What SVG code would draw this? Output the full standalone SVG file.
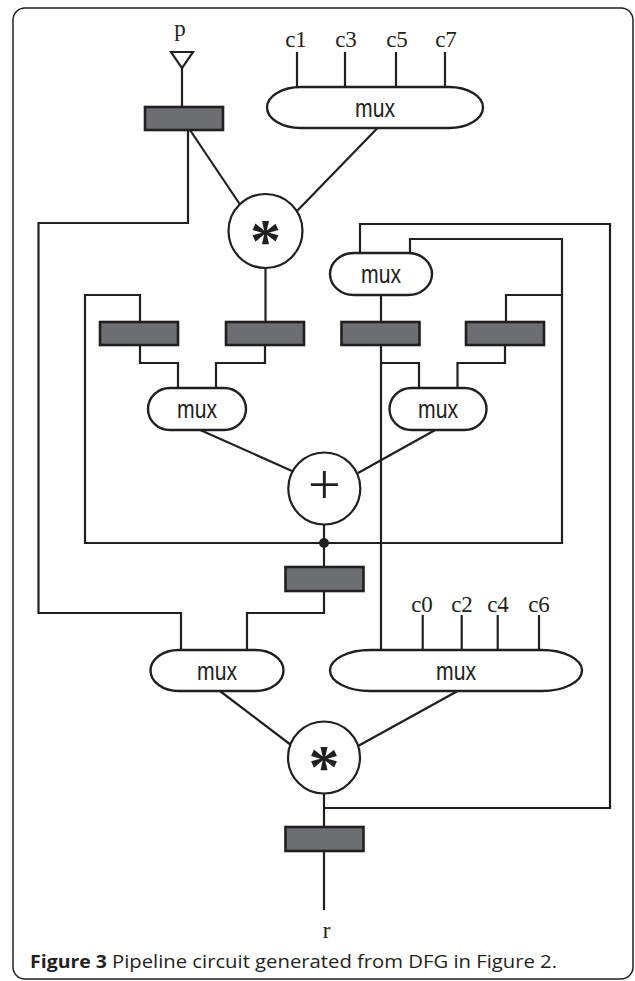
<svg xmlns="http://www.w3.org/2000/svg" width="635" height="981" viewBox="0 0 635 981">
<style>
.w{fill:none;stroke:#231f20;stroke-width:2.2;stroke-linejoin:miter;stroke-linecap:butt}
.reg{fill:#6d6e71;stroke:#231f20;stroke-width:2.6}
.mux{fill:#fff;stroke:#231f20;stroke-width:2.4}
.op{fill:#fff;stroke:#231f20;stroke-width:2.2}
.mt{font-family:"Liberation Sans",Arial,sans-serif;font-size:26px;fill:#231f20;text-anchor:middle}
.lbl{font-family:"Liberation Serif","Times New Roman",serif;font-size:23px;fill:#231f20;text-anchor:middle}
.sym{font-family:"Liberation Serif","Times New Roman",serif;fill:#231f20;text-anchor:middle}
.cap{font-family:"Open Sans","Noto Sans",sans-serif;font-size:18px;fill:#231f20}
</style>
<rect x="13" y="8" width="620" height="971" rx="12" ry="12" fill="#fff" stroke="#231f20" stroke-width="1.5"/>
<g id="connectors">
<polyline class="w" points="182,68 182,107"/>
<polyline class="w" points="297,52 297,88"/>
<polyline class="w" points="345,52 345,88"/>
<polyline class="w" points="396,52 396,88"/>
<polyline class="w" points="445,52 445,88"/>
<line class="w" x1="190" y1="130" x2="241" y2="206"/>
<line class="w" x1="378.5" y1="127" x2="297" y2="211"/>
<polyline class="w" points="188,130 188,223 38.5,223 38.5,613 181,613 181,651"/>
<polyline class="w" points="265.5,267 265.5,322"/>
<polyline class="w" points="360,254 360,224 610,224 610,808 324,808"/>
<polyline class="w" points="410,254 410,239 562,239 562,543 85,543 85,295 140,295 140,322"/>
<polyline class="w" points="562,295 506,295 506,322"/>
<polyline class="w" points="381,294 381,322"/>
<polyline class="w" points="140,345 140,363 178,363 178,389"/>
<polyline class="w" points="265,345 265,363 216,363 216,389"/>
<polyline class="w" points="381,345 381,651"/>
<polyline class="w" points="381,363 419,363 419,389"/>
<polyline class="w" points="505,345 505,363 457.5,363 457.5,389"/>
<line class="w" x1="198" y1="429" x2="292" y2="471"/>
<line class="w" x1="437" y1="429" x2="358" y2="473"/>
<polyline class="w" points="324,524 324,567"/>
<circle cx="324" cy="543" r="5" fill="#231f20"/>
<polyline class="w" points="324,591 324,613 247,613 247,651"/>
<polyline class="w" points="422.7,615 422.7,651"/>
<polyline class="w" points="461.7,615 461.7,651"/>
<polyline class="w" points="497.7,615 497.7,651"/>
<polyline class="w" points="539,615 539,651"/>
<line class="w" x1="218.6" y1="690" x2="291" y2="745"/>
<line class="w" x1="459.5" y1="690" x2="358" y2="746"/>
<polyline class="w" points="324,793 324,827"/>
<polyline class="w" points="324,851 324,910"/>
</g>
<g id="input-p">
<polygon points="171,52 193,52 182,68" fill="#fff" stroke="#231f20" stroke-width="2.2"/>
<text class="lbl" x="180" y="36" font-size="24">p</text>
</g>
<g id="labels-c-top">
<text class="lbl" x="296" y="47">c1</text>
<text class="lbl" x="346" y="47">c3</text>
<text class="lbl" x="397" y="47">c5</text>
<text class="lbl" x="446" y="47">c7</text>
</g>
<g id="labels-c-bottom">
<text class="lbl" x="422" y="612">c0</text>
<text class="lbl" x="462" y="612">c2</text>
<text class="lbl" x="498" y="612">c4</text>
<text class="lbl" x="539" y="612">c6</text>
</g>
<g id="reg1"><rect class="reg" x="145" y="107" width="78" height="23"/></g>
<g id="regA"><rect class="reg" x="100" y="322" width="78" height="23"/></g>
<g id="regB"><rect class="reg" x="226" y="322" width="78" height="23"/></g>
<g id="regC"><rect class="reg" x="341.5" y="322" width="78" height="23"/></g>
<g id="regD"><rect class="reg" x="466" y="322" width="78" height="23"/></g>
<g id="regE"><rect class="reg" x="285.5" y="567" width="78" height="24"/></g>
<g id="regF"><rect class="reg" x="285.5" y="827" width="78" height="24"/></g>
<g id="mux-top"><rect class="mux" x="267" y="87" width="216" height="41" rx="34" ry="20.5"/><text class="mt" x="375" y="117" textLength="40" lengthAdjust="spacingAndGlyphs">mux</text></g>
<g id="mux-mid"><rect class="mux" x="330" y="253" width="102" height="42" rx="24" ry="21"/><text class="mt" x="381" y="283" textLength="40" lengthAdjust="spacingAndGlyphs">mux</text></g>
<g id="mux-left"><rect class="mux" x="148" y="388" width="98" height="42" rx="22" ry="21"/><text class="mt" x="197" y="418" textLength="40" lengthAdjust="spacingAndGlyphs">mux</text></g>
<g id="mux-right"><rect class="mux" x="389.5" y="388" width="97" height="42" rx="22" ry="21"/><text class="mt" x="438" y="418" textLength="40" lengthAdjust="spacingAndGlyphs">mux</text></g>
<g id="mux-bl"><rect class="mux" x="150.5" y="650" width="133" height="41" rx="28" ry="20.5"/><text class="mt" x="217" y="680" textLength="40" lengthAdjust="spacingAndGlyphs">mux</text></g>
<g id="mux-br"><rect class="mux" x="330" y="650" width="252" height="41" rx="40" ry="20.5"/><text class="mt" x="456" y="680" textLength="40" lengthAdjust="spacingAndGlyphs">mux</text></g>
<g id="mul1"><circle class="op" cx="265.5" cy="231" r="37"/><text class="sym" x="265.5" y="261" font-size="62" font-weight="bold">*</text></g>
<g id="add"><circle class="op" cx="324.3" cy="488.5" r="36"/><text class="sym" x="324.3" y="503.5" font-size="58">+</text></g>
<g id="mul2"><circle class="op" cx="324" cy="757.5" r="36"/><text class="sym" x="324" y="787" font-size="62" font-weight="bold">*</text></g>
<g id="output-r"><text class="lbl" x="326.5" y="938" font-size="24">r</text></g>
<g id="caption">
<text class="cap" x="30" y="968" font-weight="bold" textLength="77" lengthAdjust="spacingAndGlyphs">Figure 3</text>
<text class="cap" x="112" y="968" textLength="445" lengthAdjust="spacingAndGlyphs">Pipeline circuit generated from DFG in Figure 2.</text>
</g>
</svg>
